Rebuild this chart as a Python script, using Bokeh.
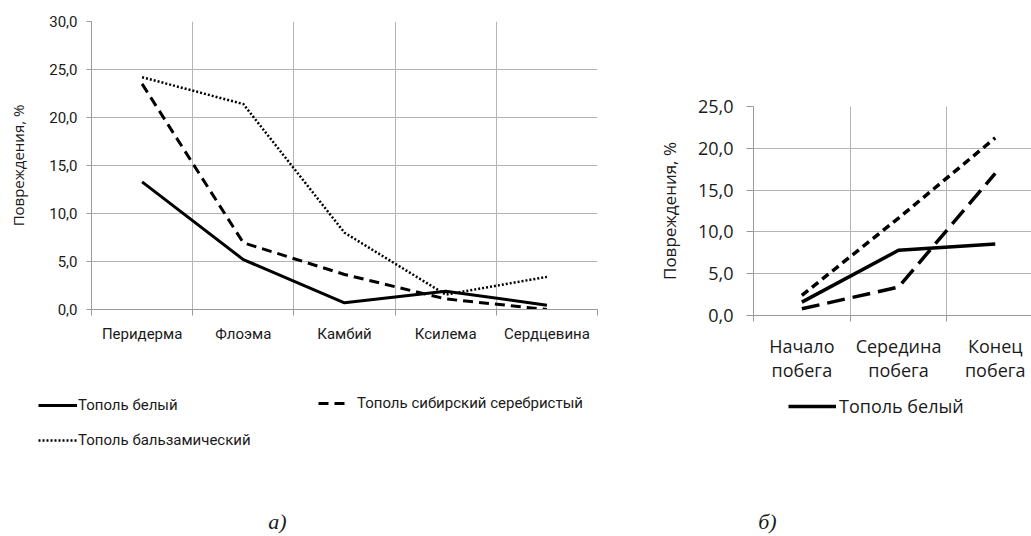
from bokeh.plotting import figure
from bokeh.layouts import row, column
from bokeh.models import (Range1d, FixedTicker, Legend, LegendItem, Label,
                          CustomJSTickFormatter)
from bokeh.embed import file_html
from bokeh.resources import INLINE

# ---------------- data ----------------
tissues = ["Перидерма", "Флоэма", "Камбий", "Ксилема", "Сердцевина"]
white_a = [13.3, 5.2, 0.7, 1.9, 0.45]
siber_a = [23.5, 6.95, 3.65, 1.1, 0.0]
balsam_a = [24.2, 21.4, 8.0, 1.55, 3.4]

parts = ["Начало\nпобега", "Середина\nпобега", "Конец\nпобега"]
white_b = [1.6, 7.8, 8.55]
siber_b = [0.8, 3.4, 17.0]
balsam_b = [2.4, 11.65, 21.25]

y_ticks_a = [0, 5, 10, 15, 20, 25, 30]
y_ticks_b = [0, 5, 10, 15, 20, 25]
y_title = "Повреждения, %"
names = ["Тополь белый", "Тополь сибирский серебристый", "Тополь бальзамический"]
captions = ["а)", "б)"]

NARROW = "Roboto, 'Open Sans', sans-serif"
OPEN = "'Open Sans', sans-serif"
SERIF = "'Liberation Serif', serif"
GRID = "#b4b4b4"
AXIS = "#9a9a9a"
TXT = "#1a1a1a"

# line styles
ST_WHITE_A = dict(line_color="black", line_width=3)
ST_SIBER_A = dict(line_color="black", line_width=3, line_dash="10 6")
ST_BALS_A = dict(line_color="black", line_width=2.5, line_dash="2 2")
ST_WHITE_B = dict(line_color="black", line_width=3.5)
ST_SIBER_B = dict(line_color="black", line_width=3.5, line_dash="18 8")
ST_BALS_B = dict(line_color="black", line_width=3.5, line_dash="8 5")

fmt = CustomJSTickFormatter(code="return tick.toFixed(1).replace('.', ',');")

MAIN_H = 385
FOOT_H = 536 - MAIN_H


def style(p, cats, yt, font, fsize, tick_out_y, y_stand, x_stand):
    n = len(cats)
    xc = [i + 0.5 for i in range(n)]
    xb = list(range(n + 1))
    p.outline_line_color = None
    p.xaxis.ticker = FixedTicker(ticks=xc, minor_ticks=xb)
    p.xaxis.major_label_overrides = {c: lab for c, lab in zip(xc, cats)}
    p.xaxis.major_tick_line_color = None
    p.xaxis.minor_tick_line_color = AXIS
    p.xaxis.minor_tick_in = 0
    p.xaxis.minor_tick_out = 6
    p.xaxis.axis_line_color = AXIS
    p.xaxis.major_label_standoff = x_stand
    p.yaxis.ticker = FixedTicker(ticks=yt)
    p.yaxis.formatter = fmt
    p.yaxis.minor_tick_line_color = None
    p.yaxis.major_tick_line_color = AXIS
    p.yaxis.major_tick_in = 0
    p.yaxis.major_tick_out = tick_out_y
    p.yaxis.axis_line_color = AXIS
    p.yaxis.major_label_standoff = y_stand
    p.xgrid.ticker = FixedTicker(ticks=xb)
    p.ygrid.ticker = FixedTicker(ticks=yt)
    p.xgrid.grid_line_color = GRID
    p.ygrid.grid_line_color = GRID
    for ax in (p.xaxis, p.yaxis):
        ax.major_label_text_font = font
        ax.major_label_text_font_size = fsize
        ax.major_label_text_color = TXT
    return xc


def footer(width):
    f = figure(width=width, height=FOOT_H, min_border=0, frame_align=False,
               x_range=Range1d(0, width), y_range=Range1d(0, FOOT_H),
               x_axis_type=None, y_axis_type=None, outline_line_color=None,
               output_backend="svg", toolbar_location=None, tools="")
    return f


def leg(items, loc, gw, standoff, font, size, spacing=15):
    return Legend(items=items, location=loc, spacing=spacing, glyph_width=gw,
                  label_standoff=standoff, padding=0, margin=0,
                  border_line_color=None, background_fill_alpha=0,
                  inactive_fill_alpha=0, click_policy="none",
                  glyph_height=20, label_height=20, label_text_font=font,
                  label_text_font_size=size, label_text_color=TXT)


def caption(text, x):
    return Label(x=x, y=15, x_units="screen", y_units="screen", text=text,
                 text_font=SERIF, text_font_style="italic",
                 text_font_size="22px", text_align="center",
                 text_baseline="middle", text_color=TXT)


# ---------------- chart a ----------------
p1 = figure(width=640, height=MAIN_H, min_border_left=91,
            min_border_right=43, min_border_top=21,
            min_border_bottom=MAIN_H - 309, frame_align=False,
            x_range=Range1d(0, 5), y_range=Range1d(0, 30),
            output_backend="svg", toolbar_location=None, tools="")
xa = style(p1, tissues, y_ticks_a, NARROW, "15px", 5, 9, 9)
p1.yaxis.axis_label = y_title
p1.yaxis.axis_label_text_font = OPEN
p1.yaxis.axis_label_text_font_style = "normal"
p1.yaxis.axis_label_text_font_size = "15px"
p1.yaxis.axis_label_text_color = TXT
p1.yaxis.axis_label_standoff = 18

p1.line(xa, white_a, **ST_WHITE_A)
p1.line(xa, siber_a, **ST_SIBER_A)
p1.line(xa, balsam_a, **ST_BALS_A)

# legend-only panel below chart a (hidden copies of the series give the keys)
fa = footer(640)
la1 = fa.line(xa, white_a, visible=False, **ST_WHITE_A)
la2 = fa.line(xa, siber_a, visible=False, **ST_SIBER_A)
la3 = fa.line(xa, balsam_a, visible=False, **ST_BALS_A)
fa.add_layout(leg([LegendItem(label=names[0], renderers=[la1]),
                   LegendItem(label=names[2], renderers=[la3])],
                  (38, 86), 39, 1, NARROW, "15px"))
fa.add_layout(leg([LegendItem(label=names[1], renderers=[la2])],
                  (318, 123), 27, 12, NARROW, "15px"))
fa.add_layout(caption(captions[0], 277))

# ---------------- chart b ----------------
p2 = figure(width=391, height=MAIN_H, min_border_left=113,
            min_border_right=0, min_border_top=106,
            min_border_bottom=MAIN_H - 315, frame_align=False,
            x_range=Range1d(0, 2.875), y_range=Range1d(0, 25),
            output_backend="svg", toolbar_location=None, tools="")
xb_ = style(p2, parts, y_ticks_b, OPEN, "18px", 7, 13, 12)
p2.xaxis.major_label_text_line_height = 1.0
p2.yaxis.axis_label = y_title
p2.yaxis.axis_label_text_font = OPEN
p2.yaxis.axis_label_text_font_style = "normal"
p2.yaxis.axis_label_text_font_size = "17px"
p2.yaxis.axis_label_text_color = TXT
p2.yaxis.axis_label_standoff = 14

p2.line(xb_, white_b, **ST_WHITE_B)
p2.line(xb_, siber_b, **ST_SIBER_B)
p2.line(xb_, balsam_b, **ST_BALS_B)

fb = footer(391)
lb1 = fb.line(xb_, white_b, visible=False, **ST_WHITE_B)
fb.add_layout(leg([LegendItem(label=names[0], renderers=[lb1])],
                  (148, 118), 48, 3, OPEN, "18px"))
fb.add_layout(caption(captions[1], 127))

layout = row(column(p1, fa), column(p2, fb))
open("out.html", "w").write(file_html(layout, INLINE))
